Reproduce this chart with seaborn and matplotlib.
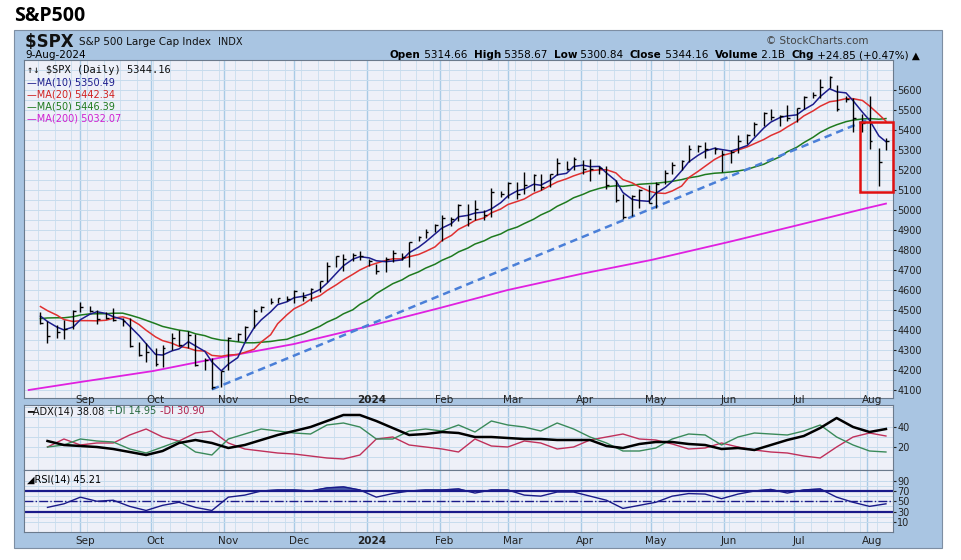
import numpy as np
import pandas as pd
import matplotlib
matplotlib.use("Agg")
import matplotlib.pyplot as plt
import matplotlib.dates as mdates
from matplotlib.patches import Rectangle
import seaborn as sns

# ---------------- data (Tue/Fri sampled bars) ----------------
pre_close = [4283,4299,4369,4410,4388,4348,4378,4450,4455,4399,4439,4505,4555,4536,4567,4582,4576,4478,4499,4464]

close = [4437,4370,4388,4406,4497,4515,4496,4457,4462,4450,4444,4320,4274,4288,4229,4308,4358,4327,4373,4224,
         4248,4117,4194,4358,4378,4415,4496,4514,4538,4559,4554,4595,4567,4604,4644,4719,4768,4754,4775,4770,
         4743,4697,4756,4784,4766,4840,4865,4891,4925,4959,4954,5027,4953,5005,4975,5089,5078,5137,5079,5124,
         5175,5117,5178,5234,5204,5254,5205,5204,5209,5123,5051,4967,5070,5100,5036,5128,5187,5223,5247,5303,
         5321,5305,5306,5278,5291,5347,5375,5431,5487,5465,5469,5460,5509,5567,5577,5615,5667,5505,5555,5459,
         5436,5346,5240,5344]
high = [4490,4445,4425,4450,4500,4541,4520,4500,4490,4511,4460,4460,4340,4335,4310,4325,4385,4398,4395,4380,
        4260,4260,4195,4367,4385,4420,4505,4520,4560,4560,4568,4598,4590,4609,4645,4738,4770,4778,4785,4793,
        4755,4730,4766,4800,4785,4842,4870,4903,4932,4975,4965,5031,5030,5048,5000,5111,5095,5140,5140,5190,
        5180,5180,5180,5261,5245,5265,5250,5256,5220,5222,5150,5080,5076,5105,5125,5140,5200,5240,5250,5325,
        5325,5340,5315,5300,5300,5375,5380,5441,5490,5505,5475,5524,5510,5570,5590,5655,5670,5625,5570,5560,
        5480,5570,5312,5358]
low = [4430,4335,4360,4355,4405,4490,4490,4430,4455,4445,4420,4315,4270,4238,4220,4216,4300,4320,4310,4220,
       4200,4103,4115,4200,4345,4345,4410,4490,4530,4535,4545,4537,4547,4545,4590,4640,4715,4695,4745,4750,
       4722,4682,4690,4740,4750,4715,4845,4860,4890,4845,4918,4945,4920,4950,4950,4965,5065,5060,5057,5080,
       5095,5100,5115,5175,5200,5200,5180,5145,5180,5105,5040,4953,4970,5010,5035,5011,5130,5180,5200,5240,
       5290,5260,5280,5191,5235,5285,5330,5370,5420,5450,5420,5445,5440,5505,5560,5560,5610,5495,5540,5390,
       5390,5305,5120,5300]

ma200_dates = ["2023-08-10","2023-09-01","2023-10-02","2023-11-01","2023-12-01","2024-01-02","2024-02-01",
               "2024-03-01","2024-04-01","2024-05-01","2024-06-03","2024-07-01","2024-08-01","2024-08-09"]
ma200_vals = [4100,4140,4195,4265,4330,4420,4510,4600,4680,4750,4840,4920,5010,5032]

trend_dates = ["2023-10-27","2024-08-02"]
trend_vals = [4103,5455]

# weekly (Friday) indicator readings, 18-Aug-2023 .. 9-Aug-2024
adx = [26,22,21,20,18,15,12,16,24,27,24,19,22,27,32,36,40,46,52,52,46,39,32,33,35,34,30,30,29,28,28,27,27,27,
       21,19,23,25,25,23,22,18,19,17,22,27,31,39,49,40,35,38]
plus_di = [20,22,28,26,25,18,14,20,26,15,12,28,33,38,36,34,33,42,44,40,28,28,36,38,36,42,35,46,42,40,36,44,38,
           30,24,16,16,19,28,33,32,22,30,34,33,32,36,42,30,22,16,15]
minus_di = [20,28,22,24,24,32,38,30,26,34,36,24,18,16,14,13,11,9,8,12,28,30,22,20,18,15,28,21,20,26,24,18,20,
            27,30,33,28,27,23,18,19,24,20,17,15,14,11,9,20,30,34,31]
rsi = [38,45,58,50,52,40,32,42,48,38,32,58,62,70,72,72,70,76,78,72,58,65,70,72,72,74,66,72,72,62,60,68,68,60,
       52,36,42,48,60,65,64,55,64,70,73,66,72,74,58,48,40,45]

months = ["Sep","Oct","Nov","Dec","2024","Feb","Mar","Apr","May","Jun","Jul","Aug"]
month_dates = pd.date_range("2023-09-01", "2024-08-01", freq="MS")
price_ticks = list(range(4100, 5700, 100))

# ---------------- frames ----------------
d_all = pd.date_range("2023-06-05", "2024-08-09", freq="W-TUE").union(
        pd.date_range("2023-06-05", "2024-08-09", freq="W-FRI"))
d_all = d_all[-(len(pre_close) + len(close)):]
s = pd.Series(pre_close + close, index=d_all)
df = pd.DataFrame({"date": d_all[len(pre_close):], "close": close, "high": high, "low": low})
df["ma10"] = s.rolling(4).mean().values[len(pre_close):]
df["ma20"] = s.rolling(8).mean().values[len(pre_close):]
df["ma50"] = s.rolling(20, min_periods=12).mean().values[len(pre_close):]

wk = pd.DataFrame({"date": pd.date_range("2023-08-18", periods=len(adx), freq="W-FRI"),
                   "adx": adx, "pdi": plus_di, "mdi": minus_di, "rsi": rsi})
wk.loc[wk.index[-1], "date"] = pd.Timestamp("2024-08-09")

# ---------------- figure ----------------
W, H = 962, 560
fig = plt.figure(figsize=(W / 100, H / 100), dpi=100)
fig.patch.set_facecolor("white")
fig.add_artist(Rectangle((14 / W, 1 - 548 / H), 928 / W, 518 / H, transform=fig.transFigure,
                         facecolor="#a9c5e2", edgecolor="#7d8ea3", lw=0.8, zorder=0))
fig.text(14 / W, 1 - 16 / H, "S&P500", fontsize=14, fontweight="bold", family="Open Sans", va="center")

L, R = 24 / W, 893 / W
def mk(top, bot):
    return fig.add_axes([L, 1 - bot / H, R - L, (bot - top) / H])
ax = mk(60, 398)
ax2 = mk(405, 470)
ax3 = mk(470, 532)

xmin, xmax = pd.Timestamp("2023-08-08"), pd.Timestamp("2024-08-12")
weeks = pd.date_range(xmin, xmax, freq="W-MON")
for a_ in (ax, ax2, ax3):
    a_.set_facecolor("#eef0f8")
    a_.set_xlim(xmin, xmax)
    for w in weeks:
        a_.axvline(w, color="#cfe0ef", lw=0.7, zorder=0)
    for m in month_dates:
        a_.axvline(m, color="#a9cbe6", lw=1.0, zorder=0)
    a_.set_xticks([])
    a_.yaxis.tick_right()
    a_.tick_params(axis="y", length=2, labelsize=7, colors="#222222", pad=1)
    for sp in a_.spines.values():
        sp.set_color("#6b7a8c"); sp.set_linewidth(0.8)

# main price panel
ax.set_ylim(4060, 5750)
for yv in range(4100, 5750, 50):
    ax.axhline(yv, color="#c7dced", lw=0.7, zorder=0)
ax.set_yticks(price_ticks)
ax.set_yticklabels([str(t) for t in price_ticks])
sns.lineplot(x=pd.to_datetime(ma200_dates), y=ma200_vals, ax=ax, color="#e020e0", lw=1.3)
sns.lineplot(data=df, x="date", y="ma50", ax=ax, color="#1e7a1e", lw=1.1)
sns.lineplot(data=df, x="date", y="ma20", ax=ax, color="#e03030", lw=1.1)
sns.lineplot(data=df, x="date", y="ma10", ax=ax, color="#1c1c8c", lw=1.1)
ax.plot(pd.to_datetime(trend_dates), trend_vals, color="#4a7fd8", lw=1.8, ls=(0, (3, 2)))
ax.vlines(df["date"], df["low"], df["high"], color="black", lw=1.0)
ax.hlines(df["close"], df["date"], df["date"] + pd.Timedelta(days=1.2), color="black", lw=1.0)
ax.add_patch(Rectangle((pd.Timestamp("2024-07-29"), 5090), pd.Timedelta(days=14), 350,
                       fill=False, edgecolor="#e01010", lw=1.8, zorder=5, clip_on=False))
ax.set_xlabel(""); ax.set_ylabel("")

leg = [("\u2191\u2193 $SPX (Daily) 5344.16", "#111111", "DejaVu Sans Mono"),
       ("\u2014MA(10) 5350.49", "#1c1c8c", None), ("\u2014MA(20) 5442.34", "#d02020", None),
       ("\u2014MA(50) 5446.39", "#1e7a1e", None), ("\u2014MA(200) 5032.07", "#d020d0", None)]
for i, (t, c, f) in enumerate(leg):
    ax.text(0.004, 0.985 - i * 0.036, t, transform=ax.transAxes, color=c, fontsize=7.5 if i == 0 else 7,
            va="top", family=f if f else "DejaVu Sans")

fig.canvas.draw()
rend = fig.canvas.get_renderer()

def seq(x0, ypix, parts):
    for t, b, c, size in parts:
        tt = fig.text(x0, 1 - ypix / H, t, fontsize=size, fontweight="bold" if b else "normal",
                      va="center", color=c)
        x0 += tt.get_window_extent(rend).width / W

# header
seq(25 / W, 42, [("$SPX ", True, "#111111", 12), ("S&P 500 Large Cap Index  ", False, "#111111", 7.5),
                 ("INDX", False, "#111111", 7)])
fig.text(25 / W, 1 - 55 / H, "9-Aug-2024", fontsize=7.5, va="center")
fig.text(868 / W, 1 - 41 / H, "\u00a9 StockCharts.com", fontsize=7.5, va="center", ha="right", color="#444444")
seq(390 / W, 55, [(t, b, "k", 7.5) for t, b in
                  [("Open", True), (" 5314.66  ", False), ("High", True), (" 5358.67  ", False),
                   ("Low", True), (" 5300.84  ", False), ("Close", True), (" 5344.16  ", False),
                   ("Volume", True), (" 2.1B  ", False), ("Chg", True), (" +24.85 (+0.47%) \u25b2", False)]])

# ADX panel
ax2.set_ylim(-3, 62)
for yv in range(10, 62, 10):
    ax2.axhline(yv, color="#c7dced", lw=0.7, zorder=0)
ax2.set_yticks([20, 40])
sns.lineplot(data=wk, x="date", y="mdi", ax=ax2, color="#c0305a", lw=1.0)
sns.lineplot(data=wk, x="date", y="pdi", ax=ax2, color="#3a8a5a", lw=1.0)
sns.lineplot(data=wk, x="date", y="adx", ax=ax2, color="black", lw=1.8)
ax2.set_xlabel(""); ax2.set_ylabel("")
seq(27 / W, 411, [("\u2501ADX(14) 38.08 ", False, "#111111", 7), ("+DI 14.95 ", False, "#2a6a40", 7),
                  ("-DI 30.90", False, "#b0204a", 7)])

# RSI panel
ax3.set_ylim(-10, 111)
for yv in range(10, 100, 10):
    ax3.axhline(yv, color="#c7dced", lw=0.7, zorder=0)
ax3.set_yticks([10, 30, 50, 70, 90])
ax3.axhline(70, color="#1a1a8a", lw=1.6)
ax3.axhline(30, color="#1a1a8a", lw=1.6)
ax3.axhline(50, color="#1a1a8a", lw=1.0, ls="-.")
sns.lineplot(data=wk, x="date", y="rsi", ax=ax3, color="#1a1a8a", lw=1.0)
ax3.fill_between(wk["date"], 70, wk["rsi"], where=wk["rsi"] > 70, color="#4a5aa8", interpolate=True)
ax3.set_xlabel(""); ax3.set_ylabel("")
ax3.text(0.004, 0.93, "\u25e2RSI(14) 45.21", transform=ax3.transAxes, fontsize=7, va="top")

# month labels
for ypix in (400, 541):
    for m, lab in zip(month_dates, months):
        xf = L + (R - L) * (mdates.date2num(m + pd.Timedelta(days=2)) - mdates.date2num(xmin)) / \
             (mdates.date2num(xmax) - mdates.date2num(xmin))
        fig.text(xf, 1 - ypix / H, lab, fontsize=7.5, ha="center", va="center",
                 fontweight="bold" if lab == "2024" else "normal", color="#222222")

fig.savefig("out.png", dpi=100)
